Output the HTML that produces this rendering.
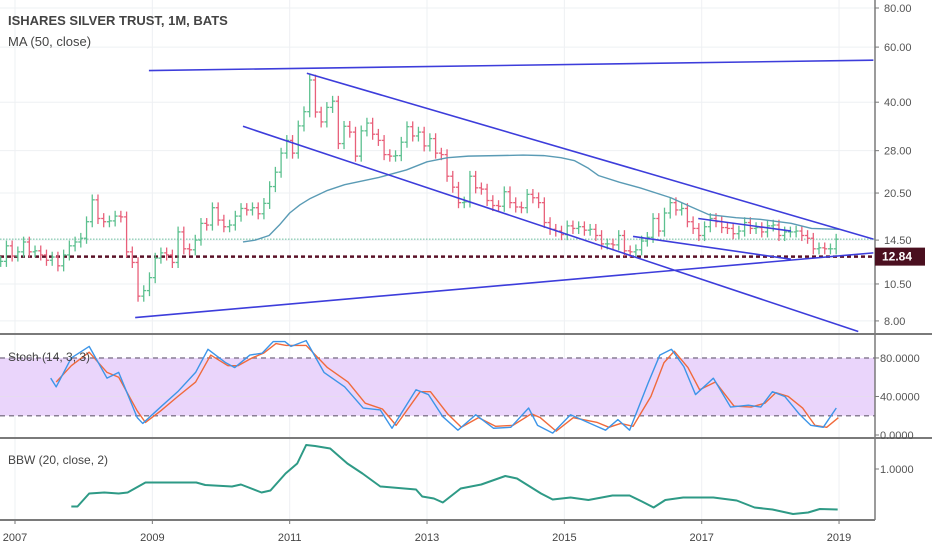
<!DOCTYPE html>
<html><head><meta charset="utf-8"><style>
body{margin:0;background:#fff;}
svg{display:block;font-family:"Liberation Sans",sans-serif;}
</style></head><body>
<svg id="c" width="932" height="550"></svg>
<script>
// ===== data =====
const startYear = 2006, startMonth = 9; // Oct 2006 (0-based month)
const closes = [12.4,13.9,12.9,
13.3,14.3,13.3,13.4,13.0,12.5,12.8,12.0,13.0,13.9,14.3,14.7,
16.6,19.5,17.0,16.6,16.7,17.3,17.2,13.3,12.3,9.6,10.0,11.0,
12.7,13.2,13.0,12.3,15.4,13.6,13.5,14.5,16.4,16.2,18.4,16.8,
16.0,16.2,17.3,18.3,18.1,18.4,17.6,19.0,21.5,23.9,27.5,30.2,
27.5,33.6,37.3,47.1,37.2,34.6,38.5,40.3,29.5,33.5,32.1,26.9,
32.4,34.3,31.6,30.2,27.2,26.9,27.0,29.8,33.4,31.2,32.1,29.0,
30.6,27.5,27.2,23.2,21.4,19.1,19.2,23.2,21.3,21.1,19.4,18.7,
18.6,20.7,19.1,18.5,18.4,20.3,19.8,19.1,16.5,15.7,15.5,15.1,
16.1,15.8,16.0,15.6,15.7,15.0,14.1,14.1,14.0,15.0,13.4,13.3,
13.5,14.4,14.8,17.0,15.5,17.7,19.1,18.1,18.3,16.6,15.8,15.0,
16.0,17.0,16.6,15.9,15.8,15.2,15.5,16.5,15.8,15.9,15.4,16.1,
16.2,15.0,15.4,15.4,15.5,15.0,14.7,13.6,13.7,13.6,13.6,14.6];
const maDates = [2010.32,2010.5,2010.7,2010.85,2011.0,2011.15,2011.3,2011.55,2011.8,2012.3,2012.7,2013.0,2013.3,2013.6,2014.0,2014.4,2014.7,2014.95,2015.15,2015.35,2015.5,2015.8,2016.1,2016.55,2016.85,2017.1,2017.5,2017.85,2018.3,2018.6,2019.0];
const maValues = [14.3,14.5,15.0,16.2,17.7,18.8,19.7,20.9,21.8,23.0,24.3,25.8,26.6,26.9,27.0,27.1,27.0,26.6,26.0,24.6,23.3,22.2,21.3,19.8,18.5,17.5,17.1,16.9,16.4,15.8,15.7];
const kDates = [2007.52,2007.60,2007.82,2008.08,2008.34,2008.51,2008.78,2008.86,2009.12,2009.37,2009.63,2009.81,2010.07,2010.20,2010.42,2010.60,2010.76,2010.93,2011.02,2011.24,2011.50,2011.80,2012.07,2012.32,2012.49,2012.84,2013.02,2013.23,2013.45,2013.71,2013.97,2014.22,2014.48,2014.61,2014.83,2015.09,2015.44,2015.60,2015.78,2015.95,2016.22,2016.39,2016.56,2016.74,2016.91,2017.17,2017.42,2017.68,2017.86,2018.03,2018.21,2018.43,2018.59,2018.77,2018.96];
const kValues = [59,50,80,92,59,65,18,12,29,45,65,89,75,70,83,85,97,97,92,98,65,50,28,26,7,47,42,19,5,21,7,8,28,10,2,21,10,5,16,5,54,83,89,71,42,59,29,31,29,45,40,21,10,8,28];
const dDates = [2007.60,2007.82,2008.08,2008.34,2008.51,2008.78,2008.90,2009.12,2009.37,2009.63,2009.85,2010.10,2010.25,2010.45,2010.62,2010.80,2010.95,2011.24,2011.55,2011.85,2012.10,2012.35,2012.55,2012.90,2013.05,2013.30,2013.50,2013.75,2014.00,2014.25,2014.52,2014.65,2014.88,2015.13,2015.48,2015.65,2015.82,2016.00,2016.26,2016.45,2016.60,2016.80,2016.97,2017.20,2017.47,2017.72,2017.92,2018.08,2018.26,2018.47,2018.65,2018.82,2018.99];
const dValues = [55,72,86,65,60,25,13,25,40,55,83,72,72,80,85,95,93,93,70,55,33,27,10,45,45,22,8,18,9,10,22,18,4,18,13,8,12,9,40,75,87,70,47,55,30,29,33,44,40,28,10,8,18];
const bbwDates = [2007.82,2007.91,2008.08,2008.30,2008.51,2008.64,2008.90,2009.64,2009.77,2010.16,2010.29,2010.59,2010.72,2010.94,2011.11,2011.24,2011.37,2011.59,2011.84,2012.06,2012.32,2012.84,2012.93,2013.10,2013.23,2013.49,2013.79,2014.14,2014.31,2014.66,2014.83,2015.09,2015.35,2015.70,2015.95,2016.13,2016.30,2016.47,2016.73,2017.17,2017.51,2017.77,2018.03,2018.33,2018.55,2018.72,2018.98];
const bbwValues = [0.25,0.25,0.51,0.53,0.51,0.53,0.73,0.73,0.68,0.65,0.69,0.53,0.57,0.91,1.11,1.48,1.46,1.41,1.11,0.91,0.65,0.59,0.45,0.41,0.33,0.61,0.69,0.86,0.81,0.51,0.39,0.43,0.38,0.47,0.47,0.35,0.23,0.38,0.43,0.43,0.37,0.23,0.19,0.10,0.13,0.20,0.19];
const yearLabels = ["2007","2009","2011","2013","2015","2017","2019"];
const priceTicks = [80,60,40,28,20.5,14.5,10.5,8];
const priceTickLabels = ["80.00","60.00","40.00","28.00","20.50","14.50","10.50","8.00"];
const stochTicks = [80,40,0];
const stochTickLabels = ["80.0000","40.0000","0.0000"];
const lastPrice = 14.6, markPrice = 12.84;

// ===== scales =====
const X = d => 15 + (d - 2007) * 68.67;
const Y = p => 8 + (Math.log(80) - Math.log(p)) * 135.9;
const YS = v => 435 - v * 0.963;
const YB = v => 469 - (v - 1) * 50;
const NS = "http://www.w3.org/2000/svg";
const svg = document.getElementById('c');
function el(tag, attrs, parent){const e=document.createElementNS(NS,tag);for(const k in attrs)e.setAttribute(k,attrs[k]);(parent||svg).appendChild(e);return e;}

// grid
yearLabels.forEach(l=>{const x=X(+l);
 const g=el('line',{x1:x,x2:x,y1:0,y2:520,stroke:'#eef0f3','stroke-width':1});
 
 });
priceTicks.forEach(p=>{const g=el('line',{x1:0,x2:875,y1:Y(p),y2:Y(p),stroke:'#eef0f3'});
 
 });

// stoch band
const band=el('rect',{x:0,y:YS(80),width:875,height:YS(20)-YS(80),fill:'#ead5fb'});


[80,20].forEach(v=>{const l=el('line',{x1:0,x2:875,y1:YS(v),y2:YS(v),stroke:'#8a7f95','stroke-width':1.5,'stroke-dasharray':'5,4'});
 
 });
el('line',{x1:0,x2:875,y1:YS(40),y2:YS(40),stroke:'#e6dcef'});

// price lines
const ll=el('line',{x1:0,x2:875,y1:Y(lastPrice),y2:Y(lastPrice),stroke:'#6cc0a0','stroke-width':1,'stroke-dasharray':'1.5,1.5'});


const ml=el('line',{x1:0,x2:875,y1:Y(markPrice),y2:Y(markPrice),stroke:'#5a1228','stroke-width':2.5,'stroke-dasharray':'4,3'});



// bars
closes.forEach((c,i)=>{
 const d = startYear + (startMonth + i)/12 + 1/24;
 const o = i>0?closes[i-1]:c;
 const hi=Math.max(o,c)*1.04, lo=Math.min(o,c)*0.96;
 const x=X(d), col=c>=o?'#5cc08f':'#e8607a';
 const g=el('g',{stroke:col,'stroke-width':1.3});
 
 
 el('line',{x1:x,x2:x,y1:Y(hi),y2:Y(lo)},g);
 el('line',{x1:x-2.5,x2:x,y1:Y(o),y2:Y(o)},g);
 el('line',{x1:x,x2:x+2.5,y1:Y(c),y2:Y(c)},g);
});

function poly(ds,vs,ys,col,w,name){
 const p=el('polyline',{points:ds.map((d,i)=>X(d)+','+ys(vs[i])).join(' '),fill:'none',stroke:col,'stroke-width':w,'stroke-linejoin':'round'});
 
 
}
poly(maDates,maValues,Y,'#5a9bb5',1.4,'ma-50-line');

// trend lines (drawn annotations in date/price)
const trendLines=[[2008.95,50.5,2019.5,54.5],[2011.25,49.5,2019.5,14.6],[2010.32,33.5,2019.28,7.4],[2008.75,8.2,2019.5,13.2],[2016.95,17.0,2018.3,15.5],[2016.0,14.9,2018.3,12.6]];
trendLines.forEach(t=>{const l=el('line',{x1:X(t[0]),y1:Y(t[1]),x2:X(t[2]),y2:Y(t[3]),stroke:'#3d3ddb','stroke-width':1.6});
 
 });

poly(dDates,dValues,YS,'#f06a3c',1.4,'stoch-d-line');
poly(kDates,kValues,YS,'#3d95e8',1.4,'stoch-k-line');
poly(bbwDates,bbwValues,YB,'#2e9a86',2,'bbw-line');

// separators / axes
[[0,334,932,334],[0,438,932,438],[0,520,875,520]].forEach(s=>{const l=el('line',{x1:s[0],y1:s[1],x2:s[2],y2:s[3],stroke:'#7a7a7a','stroke-width':2});
 
 });
const ax=el('line',{x1:875,x2:875,y1:0,y2:520,stroke:'#7a7a7a','stroke-width':1.5});



priceTicks.forEach((p,i)=>{
 el('line',{x1:875,x2:879,y1:Y(p),y2:Y(p),stroke:'#777'});
 const t=el('text',{x:884,y:Y(p)+4,'font-size':11,fill:'#555'});t.textContent=priceTickLabels[i];
 
 });
stochTicks.forEach((v,i)=>{
 el('line',{x1:875,x2:879,y1:YS(v),y2:YS(v),stroke:'#777'});
 const t=el('text',{x:880,y:YS(v)+4,'font-size':11,fill:'#555'});t.textContent=stochTickLabels[i];
 
 });
el('line',{x1:875,x2:879,y1:YB(1),y2:YB(1),stroke:'#777'});
const bt=el('text',{x:880,y:YB(1)+4,'font-size':11,fill:'#555'});bt.textContent='1.0000';



const pr=el('rect',{x:875,y:Y(markPrice)-9,width:50,height:18,fill:'#4a0f1f'});


const pt=el('text',{x:882,y:Y(markPrice)+4,'font-size':12,fill:'#fff','font-weight':'bold'});pt.textContent=markPrice.toFixed(2);



yearLabels.forEach(l=>{const x=X(+l);
 el('line',{x1:x,x2:x,y1:520,y2:524,stroke:'#777'});
 const t=el('text',{x:x,y:541,'font-size':11,fill:'#444','text-anchor':'middle'});t.textContent=l;
 
 });

function label(x,y,size,txt,name,weight){const t=el('text',{x:x,y:y,'font-size':size,fill:'#444','font-weight':weight||'normal'});t.textContent=txt;
 
 }
label(8,25,13,'ISHARES SILVER TRUST, 1M, BATS','chart-title','bold');
label(8,46,13,'MA (50, close)','ma-legend');
label(8,361,12,'Stoch (14, 3, 3)','stoch-legend');
label(8,464,12,'BBW (20, close, 2)','bbw-legend');
</script>
</body></html>
